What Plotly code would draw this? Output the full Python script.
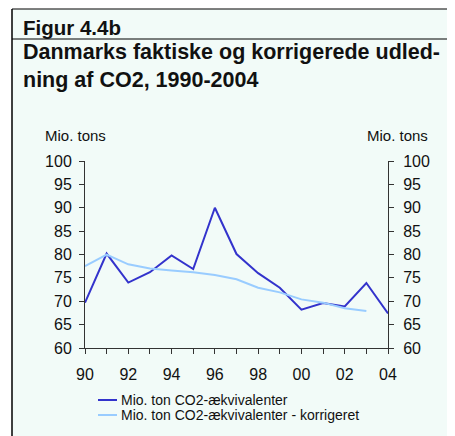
# Danmarks faktiske og korrigerede udledning af CO2, 1990-2004 (figur 4.4b)
import plotly.graph_objects as go

years = list(range(1990, 2005))
faktisk = [69.7, 80.2, 74.0, 76.2, 79.8, 76.9, 90.0, 80.1, 76.0, 72.9, 68.2, 69.6, 68.9, 73.9, 67.4]
years_korr = list(range(1990, 2004))
korrigeret = [77.5, 80.0, 77.9, 77.0, 76.6, 76.2, 75.6, 74.7, 72.9, 71.9, 70.4, 69.7, 68.5, 67.9]

series_names = ["Mio. ton CO2-ækvivalenter", "Mio. ton CO2-ækvivalenter - korrigeret"]
series_colors = ["#3333CC", "#99CCFF"]

tick_years = list(range(1990, 2005))
tick_text = ["90", "", "92", "", "94", "", "96", "", "98", "", "00", "", "02", "", "04"]
y_ticks = list(range(60, 101, 5))

# the page body has an 8px margin, so the figure is drawn 8px smaller
# and all page coordinates below are shifted by that offset
OFF = 8
W, H = 455 - OFF, 436 - OFF
L, R, T, B = 85 - OFF, 67, 161 - OFF, 88
BG = "#F2FBF8"
FONT = "Liberation Sans, Arial, sans-serif"


def px_x(px):
    return (px - OFF - L) / (W - L - R)


def px_y(py):
    return (H - B - (py - OFF)) / (H - T - B)


fig = go.Figure()
fig.add_trace(go.Scatter(x=years, y=faktisk, mode="lines", name=series_names[0],
                         line=dict(color=series_colors[0], width=2)))
fig.add_trace(go.Scatter(x=years_korr, y=korrigeret, mode="lines", name=series_names[1],
                         line=dict(color=series_colors[1], width=2)))
# invisible trace to get the right hand axis
fig.add_trace(go.Scatter(x=[1990], y=[60], yaxis="y2", mode="markers",
                         marker=dict(opacity=0), showlegend=False, hoverinfo="skip"))

axis_common = dict(showgrid=False, zeroline=False, showline=True, linecolor="#333333", linewidth=1,
                   ticks="outside", ticklen=5, tickcolor="#333333",
                   tickfont=dict(family=FONT, size=16, color="#111111"))

fig.update_layout(
    width=W, height=H,
    margin=dict(l=L, r=R, t=T, b=B),
    paper_bgcolor="white", plot_bgcolor=BG,
    showlegend=False,
    xaxis=dict(range=[1990, 2004], tickvals=tick_years, ticktext=tick_text,
               ticklabelstandoff=7, **axis_common),
    yaxis=dict(range=[60, 100], tickvals=y_ticks, ticklabelstandoff=4, **axis_common),
    yaxis2=dict(range=[60, 100], tickvals=y_ticks, overlaying="y", side="right",
                ticklabelstandoff=6, **axis_common),
)

# panel background and frame lines
fig.add_shape(type="rect", xref="paper", yref="paper", x0=px_x(12), x1=px_x(460),
              y0=px_y(440), y1=px_y(9), fillcolor=BG, line=dict(width=0), layer="below")
fig.add_shape(type="line", xref="paper", yref="paper", x0=px_x(12), x1=px_x(12),
              y0=px_y(440), y1=px_y(9), line=dict(color="black", width=1.5))
fig.add_shape(type="line", xref="paper", yref="paper", x0=px_x(12), x1=px_x(460),
              y0=px_y(9), y1=px_y(9), line=dict(color="black", width=1))
fig.add_shape(type="line", xref="paper", yref="paper", x0=px_x(12), x1=px_x(460),
              y0=px_y(39), y1=px_y(39), line=dict(color="black", width=1))

texts = [
    ("<b>Figur 4.4b</b>", 21, 27, 20.5, "left"),
    ("<b>Danmarks faktiske og korrigerede udled-<br>ning af CO2, 1990-2004</b>", 21, 66, 21.5, "left"),
    ("Mio. tons", 43, 136, 15, "left"),
    ("Mio. tons", 430, 136, 15, "right"),
]
for txt, x, y, size, anchor in texts:
    fig.add_annotation(text=txt, xref="paper", yref="paper", x=px_x(x), y=px_y(y),
                       xanchor=anchor, yanchor="middle", align="left", showarrow=False,
                       font=dict(family=FONT, size=size, color="#111111"))

# compact legend below the chart
for i, (name, color) in enumerate(zip(series_names, series_colors)):
    row_y = 400 + 15 * i
    fig.add_shape(type="line", xref="paper", yref="paper", x0=px_x(98), x1=px_x(117),
                  y0=px_y(row_y), y1=px_y(row_y), line=dict(color=color, width=2))
    fig.add_annotation(text=name, xref="paper", yref="paper", x=px_x(119), y=px_y(row_y),
                       xanchor="left", yanchor="middle", showarrow=False,
                       font=dict(family=FONT, size=14, color="#111111"))

fig.write_html("out.html")
